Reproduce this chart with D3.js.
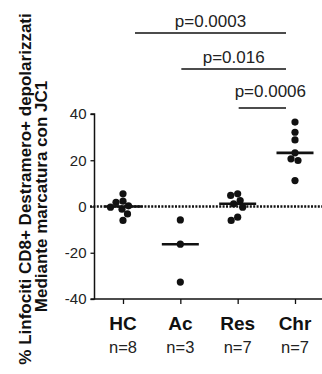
<!DOCTYPE html>
<html>
<head>
<meta charset="utf-8">
<script src="https://cdn.jsdelivr.net/npm/d3@7"></script>
<style>
  html, body { margin: 0; padding: 0; background: #fff; }
  svg { display: block; font-family: "Liberation Sans", Arial, sans-serif; }
</style>
</head>
<body>
<svg id="chart" width="322" height="374"></svg>
<script>
// ---------- data ----------
const categories = ["HC", "Ac", "Res", "Chr"];
const nLabels = ["n=8", "n=3", "n=7", "n=7"];
const hcValues = [5.5, 2.3, 1.8, 0.3, -0.3, -1.2, -3.2, -6.0];
const acValues = [-5.8, -16.3, -32.7];
const resValues = [5.5, 4.8, 2.6, 1.2, -0.3, -4.6, -6.0];
const chrValues = [36.5, 32.1, 28.8, 23.2, 20.6, 19.9, 11.2];
const yTicks = [-40, -20, 0, 20, 40];
const yTickLabels = ["-40", "-20", "0", "20", "40"];
const comparisonFrom = ["HC", "Ac", "Res"];
const comparisonTo = ["Chr", "Chr", "Chr"];
const pLabels = ["p=0.0003", "p=0.016", "p=0.0006"];
const yTitleLines = ["% Linfociti CD8+ Destramero+ depolarizzati", "Mediante marcatura con JC1"];

const seriesValues = [hcValues, acValues, resValues, chrValues];

// ---------- layout ----------
const axisX = 94.5, axisBottom = 299;
const ink = "#111";
const dotR = 3.6;
const bracketY = [33, 69, 108];

const svg = d3.select("#chart");
const x = d3.scalePoint().domain(categories).range([123, 295]);
const y = d3.scaleLinear().domain([-40, 40]).range([299, 114]);

// zero dotted line
svg.append("line")
  .attr("x1", 90).attr("x2", 322)
  .attr("y1", y(0)).attr("y2", y(0))
  .attr("stroke", ink).attr("stroke-width", 2.6)
  .attr("stroke-dasharray", "2,1.4");

// y axis
const yAxis = d3.axisLeft(y).tickValues(yTicks).tickSize(4).tickPadding(4)
  .tickFormat((d, i) => yTickLabels[i]);
const gy = svg.append("g").attr("transform", `translate(${axisX},0)`).call(yAxis);
gy.select(".domain").attr("stroke", ink).attr("stroke-width", 1.5).attr("d", `M-4,${y(40)}H0V${y(-40)}H-4`);
gy.selectAll(".tick line").attr("stroke", ink).attr("stroke-width", 1.3);
gy.selectAll(".tick text").attr("fill", "#222").style("font-size", "15px").attr("font-family", "Liberation Sans, Arial, sans-serif");

// x axis baseline
svg.append("line")
  .attr("x1", axisX).attr("x2", 322)
  .attr("y1", axisBottom).attr("y2", axisBottom)
  .attr("stroke", ink).attr("stroke-width", 1.5);
const xAxis = d3.axisBottom(x).tickSize(5).tickFormat("");
const gx = svg.append("g").attr("transform", `translate(0,${axisBottom})`).call(xAxis);
gx.select(".domain").remove();
gx.selectAll(".tick line").attr("stroke", ink).attr("stroke-width", 1.3);

// category labels
svg.append("g").selectAll("text").data(categories).join("text")
  .attr("x", d => x(d)).attr("y", 330)
  .attr("text-anchor", "middle")
  .attr("font-weight", "bold").attr("font-size", 19).attr("fill", ink)
  .text(d => d);
svg.append("g").selectAll("text").data(nLabels).join("text")
  .attr("x", (d, i) => x(categories[i])).attr("y", 353)
  .attr("text-anchor", "middle")
  .attr("font-size", 16.5).attr("fill", "#222")
  .text(d => d);

// beeswarm layout
function swarm(values, cx) {
  const placed = [];
  values.forEach(v => {
    const cy = y(v);
    let off = 0;
    for (let k = 0; k < 400; k++) {
      const o = (k % 2 === 1 ? -1 : 1) * Math.ceil(k / 2) * 0.5;
      const ok = placed.every(p => (p.x - (cx + o)) ** 2 + (p.y - cy) ** 2 >= (2 * dotR) ** 2 * 0.95);
      if (ok) { off = o; break; }
    }
    placed.push({ x: cx + off, y: cy });
  });
  return placed;
}

seriesValues.forEach((vals, i) => {
  const cx = x(categories[i]);
  const pts = swarm(vals, cx);
  svg.append("g").selectAll("circle").data(pts).join("circle")
    .attr("cx", d => d.x).attr("cy", d => d.y).attr("r", dotR).attr("fill", ink);
  const med = d3.median(vals);
  svg.append("line")
    .attr("x1", cx - 18.5).attr("x2", cx + 18.5)
    .attr("y1", y(med)).attr("y2", y(med))
    .attr("stroke", ink).attr("stroke-width", 2.6);
});

// significance brackets
pLabels.forEach((lab, i) => {
  const x1 = x(comparisonFrom[i]) + (i === 0 ? 12 : 1);
  const x2 = x(comparisonTo[i]) - 9;
  svg.append("line")
    .attr("x1", x1).attr("x2", x2)
    .attr("y1", bracketY[i]).attr("y2", bracketY[i])
    .attr("stroke", ink).attr("stroke-width", 1.5);
  svg.append("text")
    .attr("x", (x1 + x2) / 2 + (i === 2 ? 8 : 0)).attr("y", bracketY[i] - (i === 2 ? 11 : 6))
    .attr("text-anchor", "middle").attr("font-size", 17).attr("fill", "#222")
    .text(lab);
});

// y title
const yTitleX = [31, 46.5];
const yTitleCY = [189, 196.5];
yTitleLines.forEach((t, i) => {
  svg.append("text")
    .attr("transform", `translate(${yTitleX[i]},${yTitleCY[i]}) rotate(-90)`)
    .attr("text-anchor", "middle")
    .attr("font-weight", "bold").attr("font-size", 17).attr("fill", ink)
    .text(t);
});
</script>
</body>
</html>
